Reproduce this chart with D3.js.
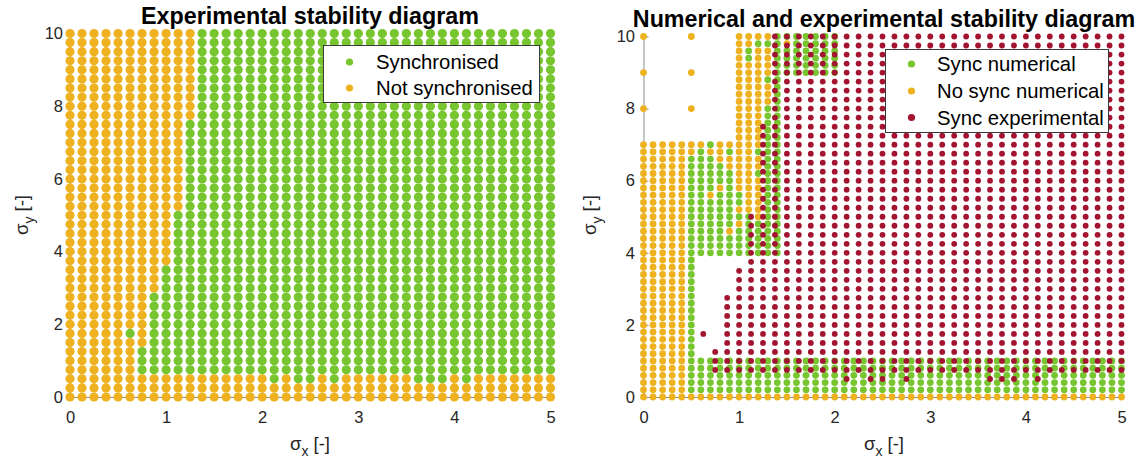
<!DOCTYPE html>
<html>
<head>
<meta charset="utf-8">
<script src="https://cdn.jsdelivr.net/npm/d3@7"></script>
<style>
  body { margin: 0; background: #fff; }
  svg text { font-family: "Liberation Sans", Arial, sans-serif; }
</style>
</head>
<body>
<svg id="chart" width="1145" height="461"></svg>
<script>
// ---- data ----
// experimental grid (sigma_x, sigma_y)
const sigmaXExp = [0, 0.125, 0.25, 0.375, 0.5, 0.625, 0.75, 0.875, 1, 1.125, 1.25, 1.375, 1.5, 1.625,
  1.75, 1.875, 2, 2.125, 2.25, 2.375, 2.5, 2.625, 2.75, 2.875, 3, 3.125, 3.25, 3.375, 3.5, 3.625,
  3.75, 3.875, 4, 4.125, 4.25, 4.375, 4.5, 4.625, 4.75, 4.875, 5];
const sigmaYExp = [0, 0.25, 0.5, 0.75, 1, 1.25, 1.5, 1.75, 2, 2.25, 2.5, 2.75, 3, 3.25, 3.5, 3.75,
  4, 4.25, 4.5, 4.75, 5, 5.25, 5.5, 5.75, 6, 6.25, 6.5, 6.75, 7, 7.25, 7.5, 7.75, 8, 8.25, 8.5,
  8.75, 9, 9.25, 9.5, 9.75, 10];
// experimental result per row, sigma_y = 10 at top down to 0; run lengths, S = synchronised, N = not
const expRows = [
  "11N 30S", "11N 30S", "11N 30S", "11N 30S", "11N 30S",
  "11N 30S", "11N 30S", "11N 30S", "11N 30S", "11N 30S",
  "10N 31S", "10N 31S", "10N 31S", "10N 31S", "10N 31S",
  "10N 31S", "10N 31S", "10N 31S", "10N 31S", "10N 31S",
  "9N 32S", "9N 32S", "9N 32S", "9N 32S", "9N 32S", "9N 32S",
  "8N 33S", "8N 33S", "8N 33S",
  "7N 34S", "7N 34S", "7N 34S", "7N 34S",
  "5N 1S 1N 34S",
  "7N 34S",
  "6N 35S", "6N 35S", "6N 35S",
  "17N 1S 1N 2S 1N 1S 6N 3S 1N 1S 7N",
  "41N",
  "41N"
];

// numerical grid
const sigmaXNum = [0, 0.1, 0.2, 0.3, 0.4, 0.5, 0.6, 0.7, 0.8, 0.9, 1, 1.1, 1.2, 1.3, 1.4, 1.5, 1.6,
  1.7, 1.8, 1.9, 2, 2.1, 2.2, 2.3, 2.4, 2.5, 2.6, 2.7, 2.8, 2.9, 3, 3.1, 3.2, 3.3, 3.4, 3.5, 3.6,
  3.7, 3.8, 3.9, 4, 4.1, 4.2, 4.3, 4.4, 4.5, 4.6, 4.7, 4.8, 4.9, 5];
const sigmaYNum = [0, 0.2, 0.4, 0.6, 0.8, 1, 1.2, 1.4, 1.6, 1.8, 2, 2.2, 2.4, 2.6, 2.8, 3, 3.2, 3.4,
  3.6, 3.8, 4, 4.2, 4.4, 4.6, 4.8, 5, 5.2, 5.4, 5.6, 5.8, 6, 6.2, 6.4, 6.6, 6.8, 7, 7.2, 7.4, 7.6,
  7.8, 8, 8.2, 8.4, 8.6, 8.8, 9, 9.2, 9.4, 9.6, 9.8, 10];
// numerical result per row, sigma_y = 10 at top down to 0; g = sync, o = no sync, . = not computed
const numRows = [
  "1o 4. 1o 4. 4o 7g",          // 10
  "10. 2o 3g 1o 5g",            // 9.8
  "10. 1o 1g 2o 7g",            // 9.6
  "10. 1o 1g 2o 7g",            // 9.4
  "10. 4o 7g",                  // 9.2
  "1o 4. 1o 4. 4o 7g",          // 9
  "10. 3o 2g",                  // 8.8
  "10. 4o 1g",                  // 8.6
  "10. 4o 1g",                  // 8.4
  "10. 4o 1g",                  // 8.2
  "1o 4. 1o 4. 3o 2g",          // 8
  "10. 3o 2g",                  // 7.8
  "10. 3o 2g",                  // 7.6
  "10. 3o 2g",                  // 7.4
  "10. 3o 2g",                  // 7.2
  "7o 1g 5o 2g",                // 7
  "6o 1g 2o 1g 2o 3g",          // 6.8
  "5o 3g 5o 2g",                // 6.6
  "5o 4g 4o 2g",                // 6.4
  "5o 5g 2o 3g",                // 6.2
  "5o 5g 3o 2g",                // 6
  "5o 3g 1o 1g 3o 2g",          // 5.8
  "5o 2g 1o 3g 2o 2g",          // 5.6
  "5o 6g 2o 2g",                // 5.4
  "5o 5g 3o 2g",                // 5.2
  "5o 7g 1o 2g",                // 5
  "5o 5g 1o 4g",                // 4.8
  "5o 4g 1o 5g",                // 4.6
  "5o 10g",                     // 4.4
  "5o 10g",                     // 4.2
  "5o 10g",                     // 4
  "5o 1g", "5o 1g", "5o 1g", "5o 1g", "5o 1g", "5o 1g", "5o 1g",   // 3.8 - 2.6
  "5o 1g", "5o 1g", "5o 1g", "5o 1g", "5o 1g", "5o 1g", "5o 1g",   // 2.4 - 1.2
  "5o 46g", "5o 46g", "5o 46g", "5o 46g", "5o 46g",                // 1 - 0.2
  "51o"                                                            // 0
];

const xTicks = [0, 1, 2, 3, 4, 5];
const yTicks = [0, 2, 4, 6, 8, 10];

const colGreen = "#77c52f", colOrange = "#eeb220", colRed = "#a2142f";

// ---- helpers ----
function runs(s) {
  const out = [];
  s.split(" ").forEach(t => {
    const n = parseInt(t, 10), c = t.replace(/^\d+/, "");
    for (let i = 0; i < n; i++) out.push(c);
  });
  return out;
}
function cells(rows, xs, ys, key) {
  const pts = [];
  rows.forEach((row, k) => {
    const y = ys[ys.length - 1 - k];
    runs(row).forEach((c, i) => { if (c === key) pts.push({ x: xs[i], y: y }); });
  });
  return pts;
}

const svg = d3.select("#chart");

function drawAxes(x, y, pad) {
  const gx = svg.append("g")
    .attr("transform", `translate(0,${y(0)})`)
    .call(d3.axisBottom(x).tickValues(xTicks).tickFormat(d3.format("d"))
      .tickSizeInner(-5).tickSizeOuter(0).tickPadding(14));
  const gy = svg.append("g")
    .attr("transform", `translate(${x(0)},0)`)
    .call(d3.axisLeft(y).tickValues(yTicks).tickFormat(d3.format("d"))
      .tickSizeInner(-5).tickSizeOuter(0).tickPadding(pad));
  [gx, gy].forEach(g => {
    g.attr("font-size", 16.5).attr("font-family", null);
    g.selectAll("path, line").attr("stroke", "#8a8a8a");
    g.selectAll("text").attr("fill", "#262626");
  });
}

function dots(pts, x, y, r, color) {
  svg.append("g").selectAll("circle")
    .data(pts)
    .enter()
    .append("circle")
    .attr("cx", d => x(d.x))
    .attr("cy", d => y(d.y))
    .attr("r", r)
    .attr("fill", color);
}

function labels(cx, titleY, title, xlabY, ylabX, cy) {
  svg.append("text").attr("x", cx).attr("y", titleY)
    .attr("text-anchor", "middle").attr("font-size", 23.3).attr("font-weight", "bold")
    .text(title);
  const xl = svg.append("text").attr("x", cx).attr("y", xlabY)
    .attr("text-anchor", "middle").attr("font-size", 18.5).attr("fill", "#262626");
  xl.append("tspan").text("σ");
  xl.append("tspan").attr("dy", 6).attr("font-size", 14).text("x");
  xl.append("tspan").attr("dy", -6).text(" [-]");
  const yl = svg.append("text")
    .attr("transform", `translate(${ylabX},${cy}) rotate(-90)`)
    .attr("text-anchor", "middle").attr("font-size", 18.5).attr("fill", "#262626");
  yl.append("tspan").text("σ");
  yl.append("tspan").attr("dy", 6).attr("font-size", 14).text("y");
  yl.append("tspan").attr("dy", -6).text(" [-]");
}

function legend(bx, by, bw, bh, mx, tx, rowsY, entries) {
  const g = svg.append("g");
  g.append("rect").attr("x", bx).attr("y", by).attr("width", bw).attr("height", bh)
    .attr("fill", "#fff").attr("stroke", "#3a3a3a").attr("stroke-width", 1);
  entries.forEach((e, i) => {
    g.append("circle").attr("cx", mx).attr("cy", rowsY[i]).attr("r", 3.6).attr("fill", e.color);
    g.append("text").attr("x", tx).attr("y", rowsY[i]).attr("dy", "0.35em")
      .attr("font-size", 20.3).attr("fill", "#000").text(e.label);
  });
}

// ---- left panel: experimental ----
const xL = d3.scaleLinear().domain([0, 5]).range([70, 550.5]);
const yL = d3.scaleLinear().domain([0, 10]).range([397, 33.5]);
drawAxes(xL, yL, 7);
dots(cells(expRows, sigmaXExp, sigmaYExp, "S"), xL, yL, 4.6, colGreen);
dots(cells(expRows, sigmaXExp, sigmaYExp, "N"), xL, yL, 4.6, colOrange);
labels(310, 23.5, "Experimental stability diagram", 450, 28, 215);
legend(323.5, 45.5, 216, 57, 349.5, 376, [62, 88], [
  { label: "Synchronised", color: colGreen },
  { label: "Not synchronised", color: colOrange }
]);

// ---- right panel: numerical and experimental ----
const xR = d3.scaleLinear().domain([0, 5]).range([643.5, 1121.5]);
const yR = d3.scaleLinear().domain([0, 10]).range([397, 36.5]);
drawAxes(xR, yR, 8.5);
dots(cells(numRows, sigmaXNum, sigmaYNum, "g"), xR, yR, 3.4, colGreen);
dots(cells(numRows, sigmaXNum, sigmaYNum, "o"), xR, yR, 3.4, colOrange);
dots(cells(expRows, sigmaXExp, sigmaYExp, "S"), xR, yR, 2.9, colRed);
labels(884, 26.5, "Numerical and experimental stability diagram", 450, 596, 215);
legend(885.5, 49.5, 223, 83, 911.5, 937, [64, 91, 117.5], [
  { label: "Sync numerical", color: colGreen },
  { label: "No sync numerical", color: colOrange },
  { label: "Sync experimental", color: colRed }
]);
</script>
</body>
</html>
